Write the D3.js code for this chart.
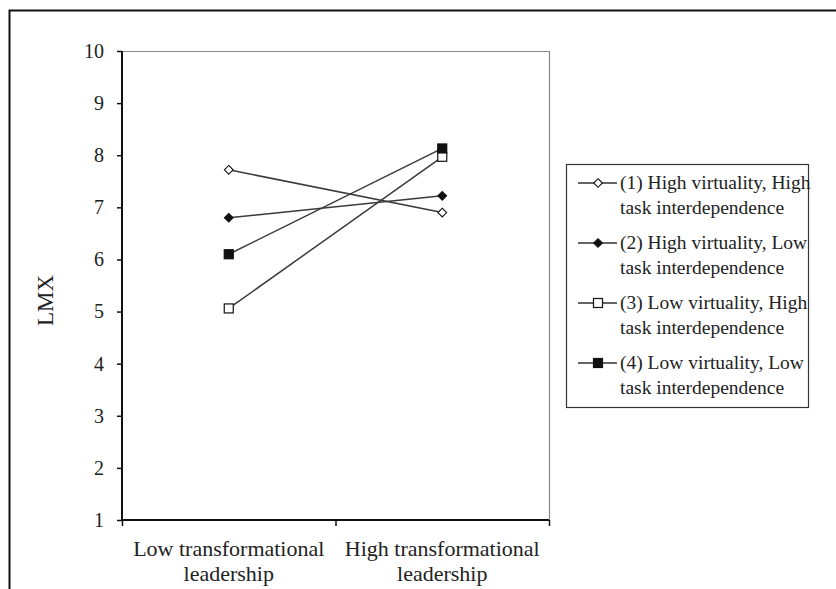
<!DOCTYPE html>
<html>
<head>
<meta charset="utf-8">
<script src="https://cdn.jsdelivr.net/npm/d3@7"></script>
<style>
  body { margin: 0; background: #fff; }
  svg { display: block; }
  svg text { font-family: "Liberation Serif", "Times New Roman", Times, "DejaVu Serif", serif !important; fill: #222; }
  .axis path, .axis line { stroke: #111; }
</style>
</head>
<body>
<div id="chart"></div>
<script>
// chart data
const categories = [["Low transformational", "leadership"], ["High transformational", "leadership"]];
const yTicks = [1, 2, 3, 4, 5, 6, 7, 8, 9, 10];
const seriesNames = [
  ["(1) High virtuality, High", "task interdependence"],
  ["(2) High virtuality, Low", "task interdependence"],
  ["(3) Low virtuality, High", "task interdependence"],
  ["(4) Low virtuality, Low", "task interdependence"]
];
const seriesMarkers = ["diamondOpen", "diamondFilled", "squareOpen", "squareFilled"];
const s1 = [7.72, 6.90];
const s2 = [6.80, 7.22];
const s3 = [5.06, 7.97];
const s4 = [6.10, 8.13];
const seriesValues = [s1, s2, s3, s4];

const svgWidth = 836, svgHeight = 589;
const plot = {left: 122, right: 549, top: 51, bottom: 520};

document.addEventListener("DOMContentLoaded", function(){
  drawChart();
});

function drawChart(){
  const svg = d3.select("#chart").append("svg")
      .attr("width", svgWidth)
      .attr("height", svgHeight);

  // outer frame
  svg.append("path")
     .attr("d", "M9.5," + svgHeight + "V10.5H" + svgWidth)
     .attr("fill", "none")
     .attr("stroke", "#111")
     .attr("stroke-width", 2);

  const catKeys = categories.map(function(c){ return c.join(" "); });

  const x = d3.scaleBand()
      .domain(catKeys)
      .range([plot.left, plot.right])
      .paddingInner(0).paddingOuter(0);

  const xEdge = d3.scaleLinear()
      .domain([0, categories.length])
      .range([plot.left, plot.right]);

  const y = d3.scaleLinear()
      .domain([1, 10])
      .range([plot.bottom, plot.top]);

  // plot frame (top and right, light grey)
  svg.append("path")
     .attr("d", "M" + plot.left + "," + (plot.top + 0.5) + "H" + (plot.right + 0.5) + "V" + plot.bottom)
     .attr("fill", "none")
     .attr("stroke", "#888")
     .attr("stroke-width", 1.2);

  // y axis
  const yAxis = svg.append("g")
     .attr("class", "axis")
     .attr("transform", "translate(" + plot.left + ",0)")
     .call(d3.axisLeft(y).tickValues(yTicks).tickSize(5).tickPadding(13).tickFormat(d3.format("d")));
  yAxis.attr("font-family", null);
  yAxis.select(".domain").attr("stroke-width", 2).attr("d", "M0," + plot.bottom + "V" + plot.top);
  yAxis.selectAll(".tick line").attr("stroke-width", 1.5);
  yAxis.selectAll("text").attr("font-size", 20).attr("fill", "#222");

  // x axis: ticks at category edges
  const xAxis = svg.append("g")
     .attr("class", "axis")
     .attr("transform", "translate(0," + plot.bottom + ")")
     .call(d3.axisBottom(xEdge).tickValues(d3.range(categories.length + 1)).tickSize(6).tickSizeOuter(0).tickFormat(""));
  xAxis.select(".domain").attr("stroke-width", 2).attr("d", "M" + (plot.left - 1) + ",0H" + plot.right);
  xAxis.selectAll(".tick line").attr("stroke-width", 1.5);

  // x category labels
  const xLabels = svg.append("g")
     .selectAll("text")
     .data(categories)
     .join("text")
     .attr("text-anchor", "middle")
     .attr("font-size", 22)
     .attr("transform", function(d){ return "translate(" + (x(d.join(" ")) + x.bandwidth() / 2) + "," + (plot.bottom + 36) + ")"; });
  xLabels.selectAll("tspan")
     .data(function(d){ return d; })
     .join("tspan")
     .attr("x", 0)
     .attr("dy", function(d, i){ return i === 0 ? 0 : 25; })
     .text(function(d){ return d; });

  // y axis title
  svg.append("text")
     .attr("transform", "translate(53," + ((plot.top + plot.bottom) / 2 + 15) + ")rotate(-90)")
     .attr("text-anchor", "middle")
     .attr("font-size", 23)
     .text("LMX");

  const line = d3.line()
     .x(function(d, i){ return x(catKeys[i]) + x.bandwidth() / 2; })
     .y(function(d){ return y(d); });

  // series lines
  svg.append("g")
     .selectAll("path")
     .data(seriesValues)
     .join("path")
     .attr("d", line)
     .attr("fill", "none")
     .attr("stroke", "#3a3a3a")
     .attr("stroke-width", 1.5);

  function drawMarker(g, type, cx, cy){
    if (type.indexOf("diamond") === 0){
      g.append("path")
       .attr("d", d3.symbol(d3.symbolDiamond2, 48)())
       .attr("transform", "translate(" + cx + "," + cy + ")")
       .attr("fill", type === "diamondFilled" ? "#111" : "#fff")
       .attr("stroke", "#111")
       .attr("stroke-width", 1.1);
    } else {
      g.append("rect")
       .attr("x", cx - 4.5).attr("y", cy - 4.5)
       .attr("width", 9).attr("height", 9)
       .attr("fill", type === "squareFilled" ? "#111" : "#fff")
       .attr("stroke", "#111")
       .attr("stroke-width", 1.2);
    }
  }

  const markers = svg.append("g");
  seriesValues.forEach(function(vals, s){
    vals.forEach(function(v, i){
      drawMarker(markers, seriesMarkers[s], x(catKeys[i]) + x.bandwidth() / 2, y(v));
    });
  });

  // legend
  const legend = svg.append("g");
  legend.append("rect")
     .attr("x", 566.5).attr("y", 164.5)
     .attr("width", 242).attr("height", 243)
     .attr("fill", "#fff")
     .attr("stroke", "#333")
     .attr("stroke-width", 1.2);

  seriesNames.forEach(function(name, s){
    const cy = 183 + s * 60;
    legend.append("line")
       .attr("x1", 578).attr("x2", 617)
       .attr("y1", cy).attr("y2", cy)
       .attr("stroke", "#333")
       .attr("stroke-width", 1.5);
    drawMarker(legend, seriesMarkers[s], 598, cy);
    const t = legend.append("text")
       .attr("font-size", 19.5)
       .attr("transform", "translate(0," + (cy + 6) + ")");
    t.selectAll("tspan")
       .data(name)
       .join("tspan")
       .attr("x", 620)
       .attr("dy", function(d, i){ return i === 0 ? 0 : 25; })
       .text(function(d){ return d; });
  });
}
</script>
</body>
</html>
